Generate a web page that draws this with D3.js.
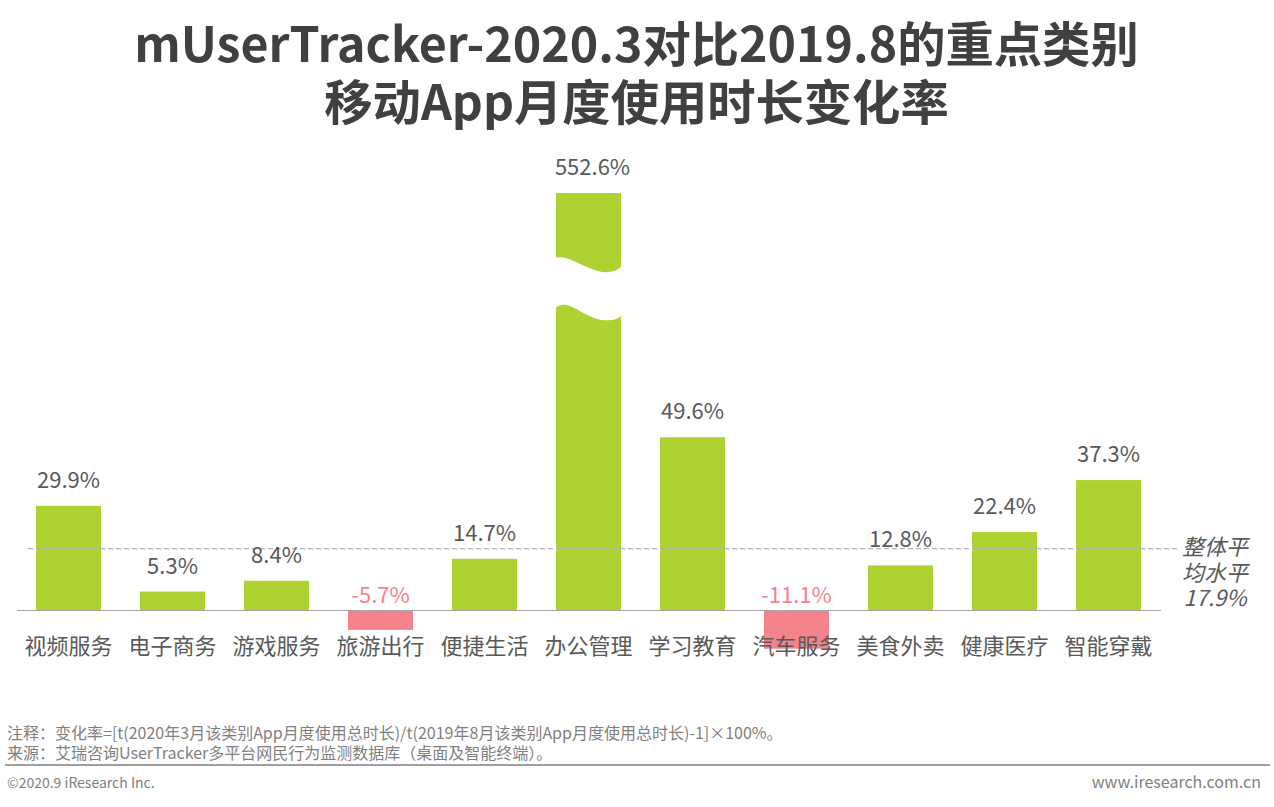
<!DOCTYPE html>
<html>
<head>
<meta charset="utf-8">
<script src="https://d3js.org/d3.v7.min.js"></script>
<style>
  html, body { margin: 0; padding: 0; background: white; }
  text { font-family: "Noto Sans CJK SC", "Noto Sans", sans-serif; }
</style>
</head>
<body>
<svg id="plot"></svg>
<script>
// Define data
const categories = ['视频服务', '电子商务', '游戏服务', '旅游出行', '便捷生活', '办公管理', '学习教育', '汽车服务', '美食外卖', '健康医疗', '智能穿戴'];
const changeRate = [29.9, 5.3, 8.4, -5.7, 14.7, 552.6, 49.6, -11.1, 12.8, 22.4, 37.3];
const overallAvg = 17.9;
const avgLabel = ['整体平', '均水平', '17.9%'];
const titleLines = ['mUserTracker-2020.3对比2019.8的重点类别', '移动App月度使用时长变化率'];
const noteLines = [
  '注释：变化率=[t(2020年3月该类别App月度使用总时长)/t(2019年8月该类别App月度使用总时长)-1]×100%。',
  '来源：艾瑞咨询UserTracker多平台网民行为监测数据库（桌面及智能终端）。'
];

let width = 1274, height = 807;
let margin = { left: 16.5, right: 113.5 };

let svg = d3.select('#plot')
  .attr('width', width)
  .attr('height', height)
  .style('display', 'block')
  .style('background', 'white');

// Set up scales, y axis is broken between 60 and the big bar

let xScale = d3.scaleBand()
  .domain(categories)
  .range([margin.left, width - margin.right])
  .paddingInner(0.375)
  .paddingOuter(0.1875);

let yScale = d3.scaleLinear()
  .domain([-11.1, 0, 60, 552.6])
  .range([648.7, 610, 401, 193]);

// Title

svg.selectAll('.title')
  .data(titleLines)
  .enter()
  .append('text')
  .attr('class', 'title')
  .attr('x', 636.5)
  .attr('y', (d, i) => 62 + i * 58)
  .attr('text-anchor', 'middle')
  .style('font-size', '48.3px')
  .style('font-weight', 700)
  .style('fill', '#404040')
  .text(d => d);

// Draw bars

svg.selectAll('.bar')
  .data(changeRate)
  .enter()
  .append('rect')
  .attr('class', 'bar')
  .attr('x', (d, i) => xScale(categories[i]))
  .attr('y', d => yScale(Math.max(d, 0)))
  .attr('width', xScale.bandwidth())
  .attr('height', d => Math.abs(yScale(d) - yScale(0)))
  .attr('fill', d => d < 0 ? '#f4838b' : '#aed232');

// White wavy gap across the broken bar

let bigBar = categories[changeRate.indexOf(d3.max(changeRate))];
let bx = xScale(bigBar), bw = xScale.bandwidth();
svg.append('path')
  .attr('fill', 'white')
  .attr('d', `M${bx - 1},258 C${bx + 12},254 ${bx + 26},268 ${bx + 46},272
    C${bx + 54},273 ${bx + 61},271 ${bw + bx + 1},266
    L${bw + bx + 1},315 C${bx + 61},320 ${bx + 54},321 ${bx + 46},320
    C${bx + 30},318 ${bx + 16},303 ${bx + 6},305 C${bx + 3},305.5 ${bx + 1},307 ${bx - 1},308 Z`);

// Average line

svg.append('line')
  .attr('x1', 28)
  .attr('x2', 1178)
  .attr('y1', yScale(overallAvg) + 1)
  .attr('y2', yScale(overallAvg) + 1)
  .style('stroke', '#b3b3b3')
  .style('stroke-width', 1.2)
  .style('stroke-dasharray', '5 3');

// Add x axis

let xAxis = svg.append('g')
  .attr('class', 'x-axis')
  .attr('transform', `translate(0, ${yScale(0)})`)
  .call(d3.axisBottom(xScale).tickSize(0).tickSizeOuter(0));

xAxis.select('.domain')
  .style('stroke', '#a6a6a6')
  .style('stroke-width', 1.2);

xAxis.selectAll('text')
  .attr('y', 36)
  .attr('dy', '0.35em')
  .style('font-size', '22px')
  .style('fill', '#595959');

// Value labels, the negative ones sit just above the axis

svg.selectAll('.value')
  .data(changeRate)
  .enter()
  .append('text')
  .attr('class', 'value')
  .attr('x', (d, i) => xScale(categories[i]) + bw / 2 + (d > 500 ? 4 : 0))
  .attr('y', d => d < 0 ? yScale(0) - 7 : yScale(d) - 18)
  .attr('text-anchor', 'middle')
  .style('font-size', '22px')
  .style('fill', d => d < 0 ? '#f4838b' : '#595959')
  .text(d => d.toFixed(1) + '%');

// Average label

let avgText = svg.append('text')
  .attr('class', 'avg')
  .attr('text-anchor', 'middle')
  .style('font-size', '22px')
  .style('font-style', 'italic')
  .style('fill', '#595959');

avgText.selectAll('tspan')
  .data(avgLabel)
  .enter()
  .append('tspan')
  .attr('x', 1215)
  .attr('y', (d, i) => 555 + i * 25.5)
  .text(d => d);

// Notes and footer

svg.selectAll('.note')
  .data(noteLines)
  .enter()
  .append('text')
  .attr('class', 'note')
  .attr('x', 7)
  .attr('y', (d, i) => 739 + i * 20)
  .style('font-size', '16px')
  .style('fill', '#7f7f7f')
  .text(d => d);

svg.append('line')
  .attr('x1', 5)
  .attr('x2', 1270)
  .attr('y1', 765)
  .attr('y2', 765)
  .style('stroke', '#7f7f7f')
  .style('stroke-width', 1.5);

svg.append('text')
  .attr('x', 7)
  .attr('y', 788)
  .style('font-size', '14px')
  .style('fill', '#7f7f7f')
  .text('©2020.9 iResearch Inc.');

svg.append('text')
  .attr('x', 1261)
  .attr('y', 788)
  .attr('text-anchor', 'end')
  .style('font-size', '16px')
  .style('fill', '#7f7f7f')
  .text('www.iresearch.com.cn');
</script>
</body>
</html>
